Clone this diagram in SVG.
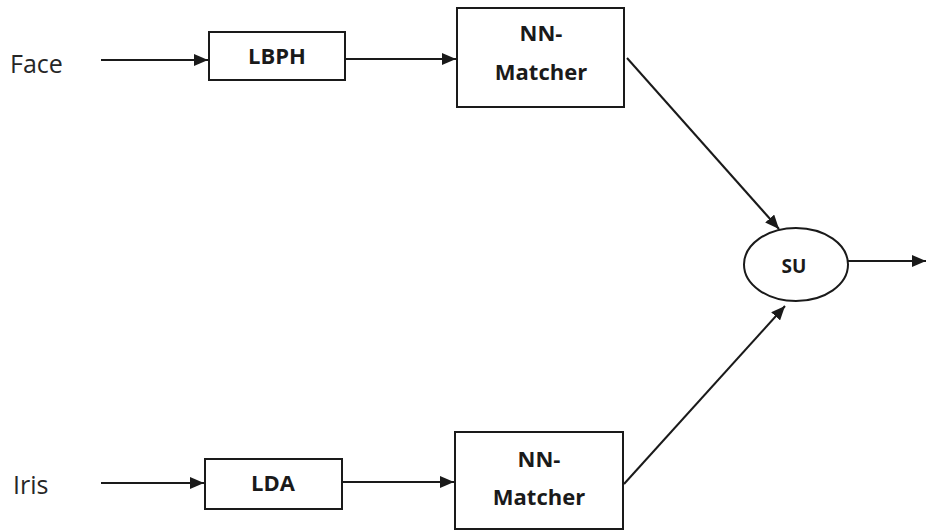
<svg xmlns="http://www.w3.org/2000/svg" width="926" height="532" viewBox="0 0 926 532">
  <style>
    .box { fill: #fff; stroke: #1a1a1a; stroke-width: 2; }
    .lbl { font-family: "Open Sans", "Noto Sans", sans-serif; font-weight: bold; font-size: 22px; fill: #1a1a1a; text-anchor: middle; }
    .inp { font-family: "Open Sans", "Noto Sans", sans-serif; font-size: 25px; fill: #262626; }
    .edge { fill: none; stroke: #1a1a1a; stroke-width: 2; marker-end: url(#arrow); }
  </style>
  <defs>
    <marker id="arrow" viewBox="0 0 14 12" refX="14" refY="6" markerWidth="14" markerHeight="12" markerUnits="userSpaceOnUse" orient="auto">
      <path d="M0,0 L14,6 L0,12 z" fill="#1a1a1a"/>
    </marker>
  </defs>
  <rect width="926" height="532" fill="#fff"/>

  <text class="inp" x="10" y="73">Face</text>
  <text class="inp" x="13" y="494">Iris</text>

  <g id="connectors">
    <line class="edge" x1="101" y1="60" x2="208" y2="60"/>
    <line class="edge" x1="345" y1="59" x2="456" y2="59"/>
    <line class="edge" x1="627" y1="58" x2="779" y2="229"/>
    <line class="edge" x1="101" y1="483" x2="204" y2="483"/>
    <line class="edge" x1="342" y1="482" x2="454" y2="482"/>
    <line class="edge" x1="624" y1="484" x2="785" y2="306"/>
    <line class="edge" x1="848" y1="261" x2="926" y2="261"/>
  </g>

  <g id="lbph">
    <rect class="box" x="209" y="32" width="136" height="48"/>
    <text class="lbl" x="277" y="64">LBPH</text>
  </g>
  <g id="nn-top">
    <rect class="box" x="457" y="8" width="167" height="99"/>
    <text class="lbl" x="541" y="41">NN-</text>
    <text class="lbl" x="541" y="80">Matcher</text>
  </g>
  <g id="lda">
    <rect class="box" x="205" y="459" width="137" height="50"/>
    <text class="lbl" x="273" y="491">LDA</text>
  </g>
  <g id="nn-bottom">
    <rect class="box" x="455" y="432" width="168" height="97"/>
    <text class="lbl" x="539" y="467">NN-</text>
    <text class="lbl" x="539" y="505">Matcher</text>
  </g>
  <g id="su">
    <ellipse class="box" cx="796" cy="264.5" rx="52" ry="36.5"/>
    <text class="lbl" x="794" y="273" style="font-size:19px">SU</text>
  </g>
</svg>
